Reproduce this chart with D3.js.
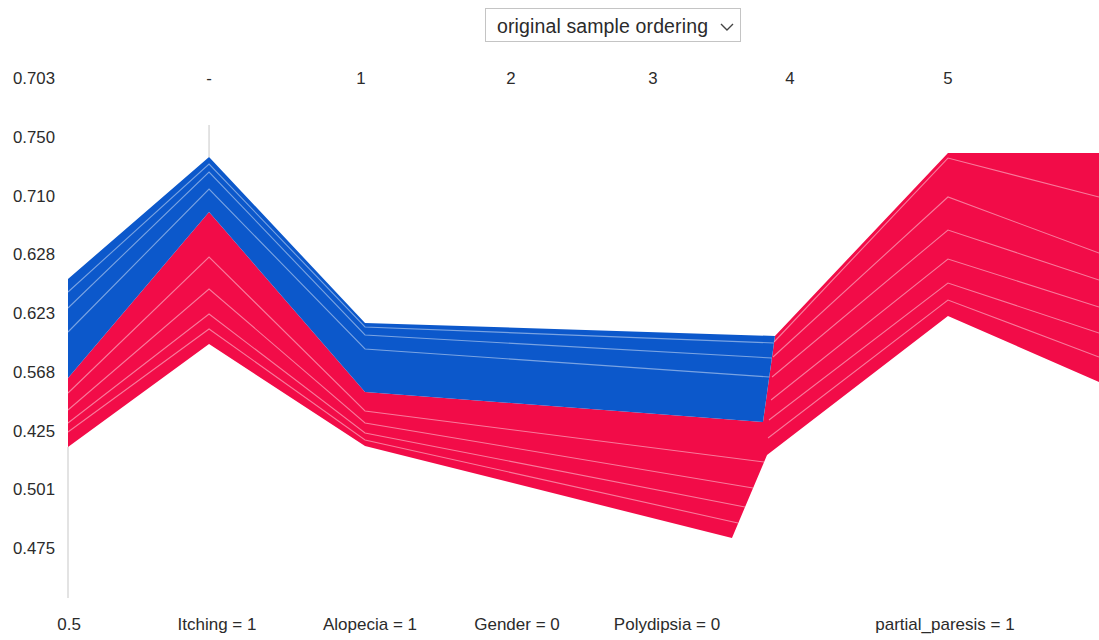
<!DOCTYPE html>
<html>
<head>
<meta charset="utf-8">
<script src="https://cdn.jsdelivr.net/npm/d3@7"></script>
<style>
  html, body { margin: 0; padding: 0; background: #fff; }
  svg { display: block; font-family: "Liberation Sans", Arial, sans-serif; }
</style>
</head>
<body>
<svg id="chart" width="1099" height="640"></svg>
<script>
// ---------- data ----------
const yTickLabels = ["0.703", "0.750", "0.710", "0.628", "0.623", "0.568", "0.425", "0.501", "0.475"];
const topTickLabels = ["-", "1", "2", "3", "4", "5"];
const topTickX = [13.68, 28.42, 42.97, 56.74, 70.03, 85.35];
const featureLabels = ["0.5", "Itching = 1", "Alopecia = 1", "Gender = 0", "Polydipsia = 0", "partial_paresis = 1"];
const featureX = [0.1, 14.45, 29.29, 43.55, 58.1, 85.06];

// blue (negative effect) region
const blueTop = [[0, 64.2], [13.68, 88.6], [28.81, 55.4], [68.57, 52.8]];
const blueBottom = [[0, 44.4], [13.68, 77.6], [28.81, 41.6], [67.41, 35.6]];
const blueLines = [
  [[0, 61.6], [13.68, 87.2], [28.81, 54.6], [68.48, 51.4]],
  [[0, 58.4], [13.68, 85.6], [28.81, 53.0], [68.27, 48.4]],
  [[0, 53.6], [13.68, 82.2], [28.81, 50.2], [68.02, 44.6]]
];

// red (positive effect) region
const redTop = [[0, 44.4], [13.68, 77.6], [28.81, 41.6], [67.41, 35.6], [68.57, 52.8], [85.35, 89.4], [100, 89.4]];
const redBottom = [[0, 30.6], [13.68, 51.2], [28.81, 30.8], [64.40, 12.4], [67.80, 29.0], [85.35, 56.8], [100, 43.6]];
const redLines = [
  [[0, 41.4], [13.68, 68.6], [28.81, 37.8], [67.51, 27.6]],
  [[0, 38.0], [13.68, 62.2], [28.81, 35.4], [66.44, 22.4]],
  [[0, 35.4], [13.68, 57.2], [28.81, 33.4], [65.66, 18.6]],
  [[0, 33.6], [13.68, 54.2], [28.81, 32.0], [64.98, 15.4]],
  [[68.48, 51.6], [85.35, 88.4], [100, 80.6]],
  [[68.38, 48.6], [85.35, 80.6], [100, 69.4]],
  [[68.29, 44.6], [85.35, 74.0], [100, 64.0]],
  [[68.19, 40.0], [85.35, 68.2], [100, 58.6]],
  [[67.99, 36.0], [85.35, 63.4], [100, 53.4]],
  [[67.90, 32.4], [85.35, 60.0], [100, 48.6]]
];

const dropdownText = "original sample ordering";

// ---------- scales ----------
const W = 1099, H = 640;
const x = d3.scaleLinear().domain([0, 100]).range([68, 1099]);
const y = d3.scaleLinear().domain([0, 100]).range([600, 100]);
const yLab = d3.scalePoint().domain(yTickLabels).range([y(104.4), y(10.4)]);

const svg = d3.select("#chart");
const BLUE = "#0c58cb", RED = "#f20c48";
const line = d3.line().x(d => x(d[0])).y(d => y(d[1]));

// axis guide lines
svg.append("line")
  .attr("x1", x(0)).attr("x2", x(0))
  .attr("y1", y(30.6)).attr("y2", y(0.4))
  .attr("stroke", "#d0d0d0").attr("stroke-width", 1.2);
svg.append("line")
  .attr("x1", x(13.68)).attr("x2", x(13.68))
  .attr("y1", y(95)).attr("y2", y(88.6))
  .attr("stroke", "#d0d0d0").attr("stroke-width", 1.2);

// areas
const redPoly = redTop.concat(redBottom.slice().reverse());
svg.append("path").attr("d", line(redPoly) + "Z").attr("fill", RED);
const bluePoly = blueTop.concat(blueBottom.slice().reverse());
svg.append("path").attr("d", line(bluePoly) + "Z").attr("fill", BLUE);

// internal feature lines
svg.append("g").selectAll("path").data(blueLines.concat(redLines)).join("path")
  .attr("d", line)
  .attr("fill", "none")
  .attr("stroke", "#ffffff")
  .attr("stroke-opacity", 0.45)
  .attr("stroke-width", 1.1);

// y labels
svg.append("g").selectAll("text").data(yTickLabels).join("text")
  .attr("x", 13).attr("y", d => yLab(d) + 6)
  .attr("font-size", 16.8).attr("fill", "#2b2b2b")
  .text(d => d);

// top labels
svg.append("g").selectAll("text").data(topTickLabels).join("text")
  .attr("x", (d, i) => x(topTickX[i])).attr("y", yLab(yTickLabels[0]) + 6)
  .attr("text-anchor", "middle")
  .attr("font-size", 16.8).attr("fill", "#2b2b2b")
  .text(d => d);

// bottom feature labels
svg.append("g").selectAll("text").data(featureLabels).join("text")
  .attr("x", (d, i) => x(featureX[i])).attr("y", 630)
  .attr("text-anchor", "middle")
  .attr("font-size", 17).attr("fill", "#2b2b2b")
  .text(d => d);

// dropdown
const dd = svg.append("g");
dd.append("rect").attr("x", 485.5).attr("y", 8.5).attr("width", 255).attr("height", 33)
  .attr("fill", "#fff").attr("stroke", "#c4c4c4");
dd.append("text").attr("x", 497).attr("y", 33)
  .attr("font-size", 19.5).attr("fill", "#2b2b2b").attr("textLength", 211)
  .text(dropdownText);
dd.append("path").attr("d", "M721,24 L727,30 L733,24")
  .attr("fill", "none").attr("stroke", "#444").attr("stroke-width", 1.4);
</script>
</body>
</html>
